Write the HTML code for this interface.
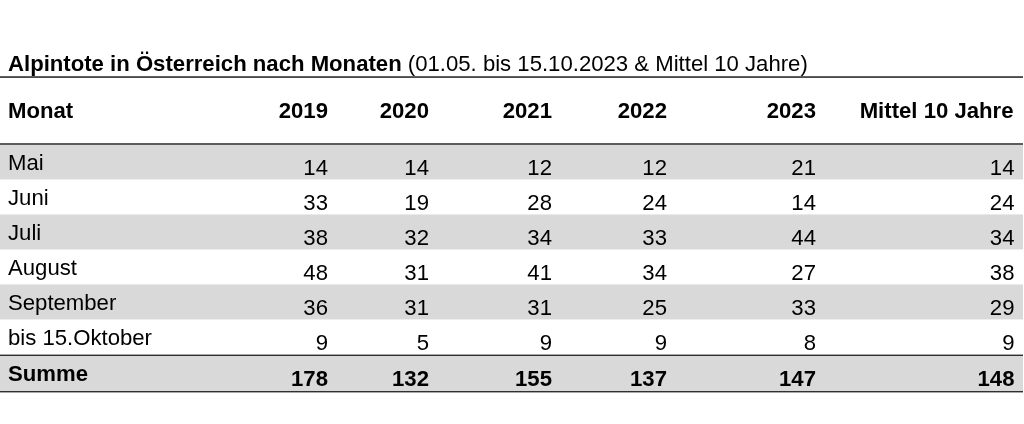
<!DOCTYPE html>
<html lang="de">
<head>
<meta charset="utf-8">
<title>Alpintote in Österreich nach Monaten</title>
<style>
  html, body { margin: 0; padding: 0; background: #fff; }
  body { width: 1024px; height: 424px; position: relative; overflow: hidden;
         font-family: "Liberation Sans", Arial, Helvetica, sans-serif; color: #000; font-size: 22.15px; }
  .title, table { will-change: transform; }
  .title { position: absolute; left: 8px; top: 51px; line-height: 26px; white-space: nowrap; }
  .title b { font-weight: bold; }
  .hline { position: absolute; left: 0; width: 1023px; z-index: 5; }
  table { position: absolute; left: 0; top: 78px; width: 1023px; border-collapse: collapse; table-layout: fixed; }
  td, th { padding: 0; white-space: nowrap; line-height: 20px; vertical-align: top; text-align: right; overflow: visible; }
  th { font-weight: bold; height: 66px; box-sizing: border-box; padding-top: 23px; }
  th:first-child, td:first-child { text-align: left; padding-left: 8px; }
  td { height: 35px; box-sizing: border-box; padding-top: 14px; }
  td:first-child { padding-top: 9px; }
  th:last-child { padding-right: 9.5px; }
  td:last-child { padding-right: 8.5px; }
  tbody tr:nth-child(odd) td { background: linear-gradient(#eaeaea 0 1px, #d9d9d9 1px 100%); }
  tbody tr:nth-child(even) td { background: linear-gradient(#eeeeee 0 1px, #ffffff 1px 100%); }
  tfoot td { font-weight: bold; background: #d9d9d9; height: 37px; padding-top: 15px; }
  tfoot td:first-child { padding-top: 10px; }
</style>
</head>
<body>
<div class="title"><b>Alpintote in Österreich nach Monaten</b> (01.05. bis 15.10.2023 &amp; Mittel 10 Jahre)</div>
<div class="hline" style="top:76px;height:2px;background:linear-gradient(#626262 0 50%,#4a4a4a 50% 100%)"></div>
<div class="hline" style="top:143px;height:2px;background:#5c5c5c"></div>
<div class="hline" style="top:354px;height:2px;background:linear-gradient(#a8a8a8 0 50%,#303030 50% 100%)"></div>
<div class="hline" style="top:391px;height:2px;background:linear-gradient(#303030 0 50%,#a8a8a8 50% 100%)"></div>
<table>
  <colgroup>
    <col style="width:228px"><col style="width:100px"><col style="width:101px"><col style="width:123px"><col style="width:115px"><col style="width:149px"><col style="width:207px">
  </colgroup>
  <thead>
    <tr><th>Monat</th><th>2019</th><th>2020</th><th>2021</th><th>2022</th><th>2023</th><th>Mittel 10 Jahre</th></tr>
  </thead>
  <tbody>
    <tr><td>Mai</td><td>14</td><td>14</td><td>12</td><td>12</td><td>21</td><td>14</td></tr>
    <tr><td>Juni</td><td>33</td><td>19</td><td>28</td><td>24</td><td>14</td><td>24</td></tr>
    <tr><td>Juli</td><td>38</td><td>32</td><td>34</td><td>33</td><td>44</td><td>34</td></tr>
    <tr><td>August</td><td>48</td><td>31</td><td>41</td><td>34</td><td>27</td><td>38</td></tr>
    <tr><td>September</td><td>36</td><td>31</td><td>31</td><td>25</td><td>33</td><td>29</td></tr>
    <tr><td>bis 15.Oktober</td><td>9</td><td>5</td><td>9</td><td>9</td><td>8</td><td>9</td></tr>
  </tbody>
  <tfoot>
    <tr><td>Summe</td><td>178</td><td>132</td><td>155</td><td>137</td><td>147</td><td>148</td></tr>
  </tfoot>
</table>
</body>
</html>
